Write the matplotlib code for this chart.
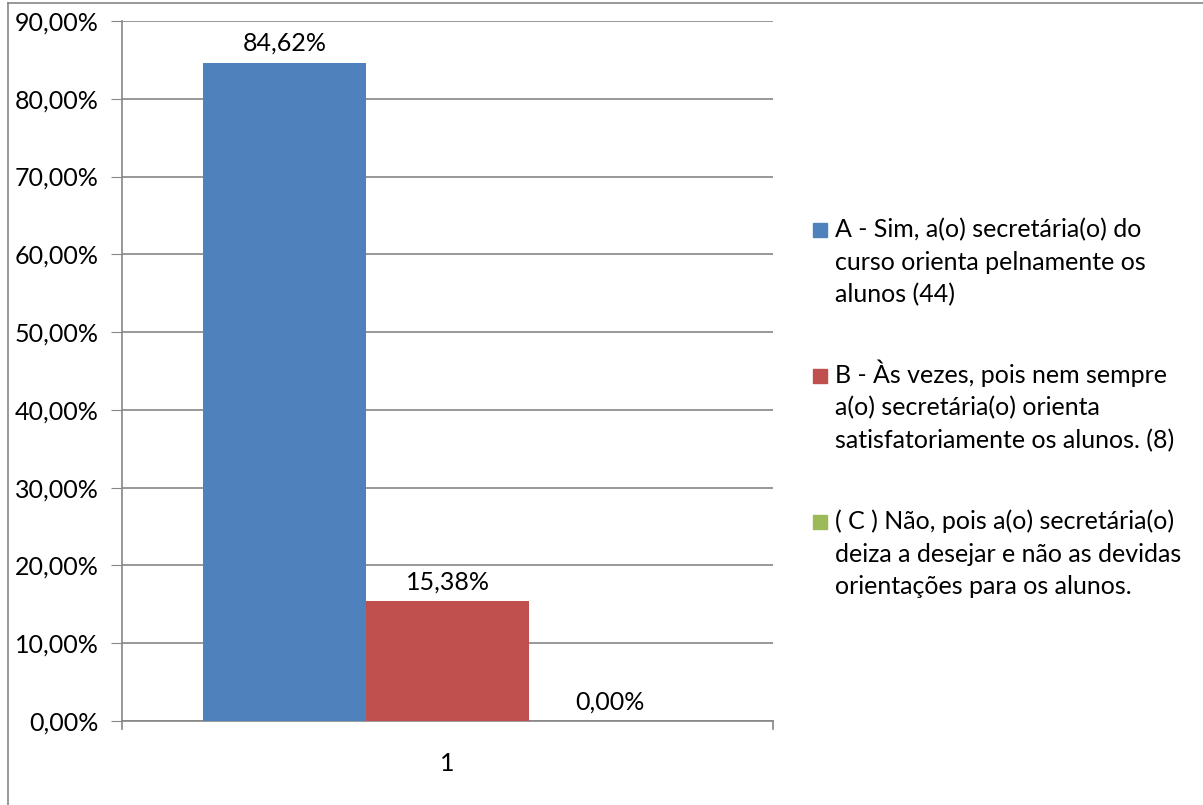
import matplotlib
matplotlib.use("Agg")
import matplotlib.pyplot as plt
from matplotlib.patches import Rectangle
from matplotlib.lines import Line2D

categories = ["1"]
series_labels = [
    "A - Sim, a(o) secretária(o) do\ncurso orienta pelnamente os\nalunos (44)",
    "B - Às vezes, pois nem sempre\na(o) secretária(o) orienta\nsatisfatoriamente os alunos. (8)",
    "( C ) Não, pois a(o) secretária(o)\ndeiza a desejar e não as devidas\norientações para os alunos.",
]
values = [84.62, 15.38, 0.00]
colors = ["#4F81BD", "#C0504D", "#9BBB59"]
yticks = [0, 10, 20, 30, 40, 50, 60, 70, 80, 90]

plt.rcParams['font.family'] = ['Lato', 'DejaVu Sans']
FS = 18
W, H = 1203, 805
fig = plt.figure(figsize=(W / 100, H / 100), dpi=100)

ax = fig.add_axes([122 / W, (H - 721) / H, (773 - 122) / W, (721 - 21) / H])
bw = 0.25
offsets = [-bw, 0, bw]
bars = []
for v, c, off in zip(values, colors, offsets):
    b = ax.bar(0 + off, v, width=bw, color=c, zorder=3)
    bars.append(b)
    ax.text(0 + off, v + 1.0, f"{v:.2f}%".replace('.', ','), ha='center', va='bottom',
            fontsize=FS, color='black', zorder=4)

ax.set_xlim(-0.5, 0.5)
ax.set_ylim(0, 90)
ax.set_yticks(yticks)
ax.set_yticklabels([f"{t:.2f}%".replace('.', ',') for t in yticks], fontsize=FS)
ax.set_xticks([0])
ax.set_xticklabels(categories, fontsize=FS)
ax.tick_params(axis='x', length=0, pad=22)
ax.tick_params(axis='y', length=8, color='#868686', pad=9)
ax.grid(axis='y', color='#868686', linewidth=1.2, zorder=0)
for s in ['top', 'right']:
    ax.spines[s].set_visible(False)
for s in ['left', 'bottom']:
    ax.spines[s].set_color('#868686')
    ax.spines[s].set_linewidth(1.2)
# category boundary ticks
for xb in [-0.5, 0.5]:
    ax.plot([xb, xb], [0, -1.0], color='#868686', lw=1.2, clip_on=False, transform=ax.transData)

# chart frame
fig.add_artist(Line2D([8 / W, 8 / W], [0, (H - 3) / H], color='#868686', lw=1.2))
fig.add_artist(Line2D([8 / W, 1], [(H - 3) / H, (H - 3) / H], color='#868686', lw=1.2))

# legend
leg_tops = [230, 376, 522]
line_step = 32.5
for lab, b, yc in zip(series_labels, bars, leg_tops):
    col = b.patches[0].get_facecolor()
    fig.add_artist(Rectangle((813 / W, (H - yc - 7) / H), 14 / W, 14 / H, color=col,
                             transform=fig.transFigure))
    for i, line in enumerate(lab.split('\n')):
        ycl = yc + i * line_step
        fig.text(835 / W, (H - ycl - 7) / H, line, ha='left', va='baseline', fontsize=FS,
                 transform=fig.transFigure)

fig.savefig("out.png", dpi=100)
